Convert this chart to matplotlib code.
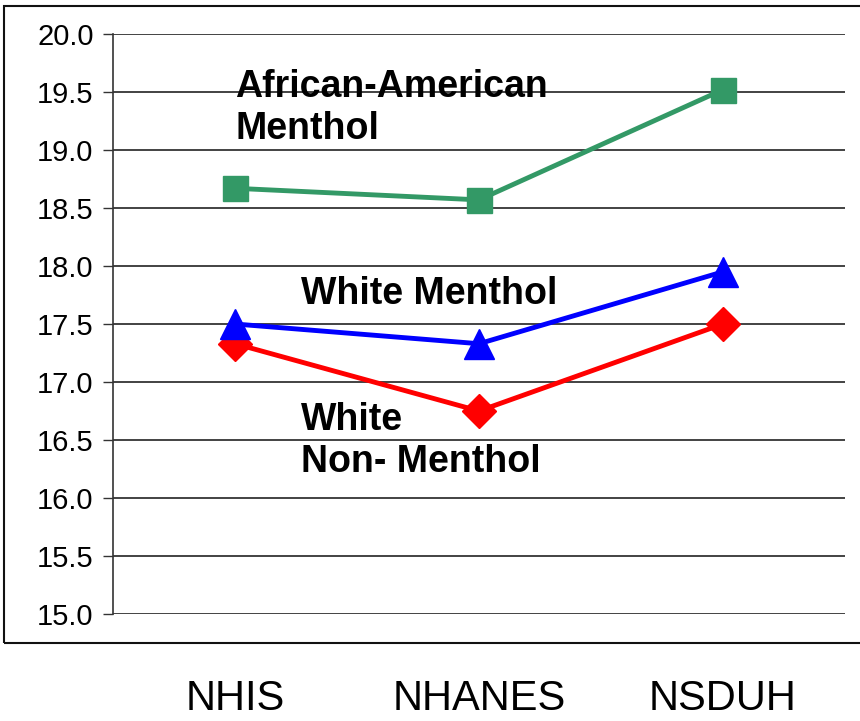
import numpy as np
import matplotlib
matplotlib.use("Agg")
import matplotlib.pyplot as plt
from matplotlib.patches import Rectangle

# data
surveys = ["NHIS", "NHANES", "NSDUH"]
aa_menthol = [18.67, 18.57, 19.52]
white_menthol = [17.50, 17.33, 17.95]
white_nonmenthol = [17.33, 16.75, 17.50]
yticks = np.arange(15.0, 20.01, 0.5)

plain = ["Liberation Sans", "DejaVu Sans"]

fig = plt.figure(figsize=(8.6, 7.21), dpi=100)
ax = fig.add_axes([113 / 860, 1 - 614 / 721, (845 - 113) / 860, (614 - 34) / 721])

x = np.arange(len(surveys))
ax.plot(x, white_nonmenthol, color="#ff0000", lw=3.5, marker="D", ms=17, zorder=3)
ax.plot(x, white_menthol, color="#0000ff", lw=3.5, marker="^", ms=21, zorder=4)
ax.plot(x, aa_menthol, color="#339966", lw=3.5, marker="s", ms=18, zorder=5)

ax.set_xlim(-0.5, 2.5)
ax.set_ylim(15.0, 20.0)
ax.set_yticks(yticks)
ax.set_yticklabels([f"{v:.1f}" for v in yticks], family=plain, fontsize=21)
ax.set_xticks(x)
ax.set_xticklabels(surveys, family=plain, fontsize=30)
ax.tick_params(axis="x", length=0, pad=47)
ax.tick_params(axis="y", length=7, width=1, pad=7, color="#333333")
ax.grid(axis="y", color="#222222", lw=1.2)
ax.set_axisbelow(True)
for s in ["top", "right", "bottom"]:
    ax.spines[s].set_visible(False)
ax.spines["left"].set_color("#333333")
ax.spines["left"].set_linewidth(1.2)

tkw = dict(family=plain, fontsize=27, fontweight="bold", ha="left", va="center",
           linespacing=1.2, zorder=6)
ax.text(0.0, 19.36, "African-American\nMenthol", **tkw)
ax.text(0.27, 17.76, "White Menthol", **tkw)
ax.text(0.27, 16.49, "White\nNon- Menthol", **tkw)

# outer frame around the chart area
fig.patches.append(Rectangle((4 / 860, 1 - 643 / 721), 870 / 860, (643 - 6) / 721,
                             transform=fig.transFigure, fill=False,
                             edgecolor="#111111", lw=1.5))

fig.savefig("out.png", dpi=100)
